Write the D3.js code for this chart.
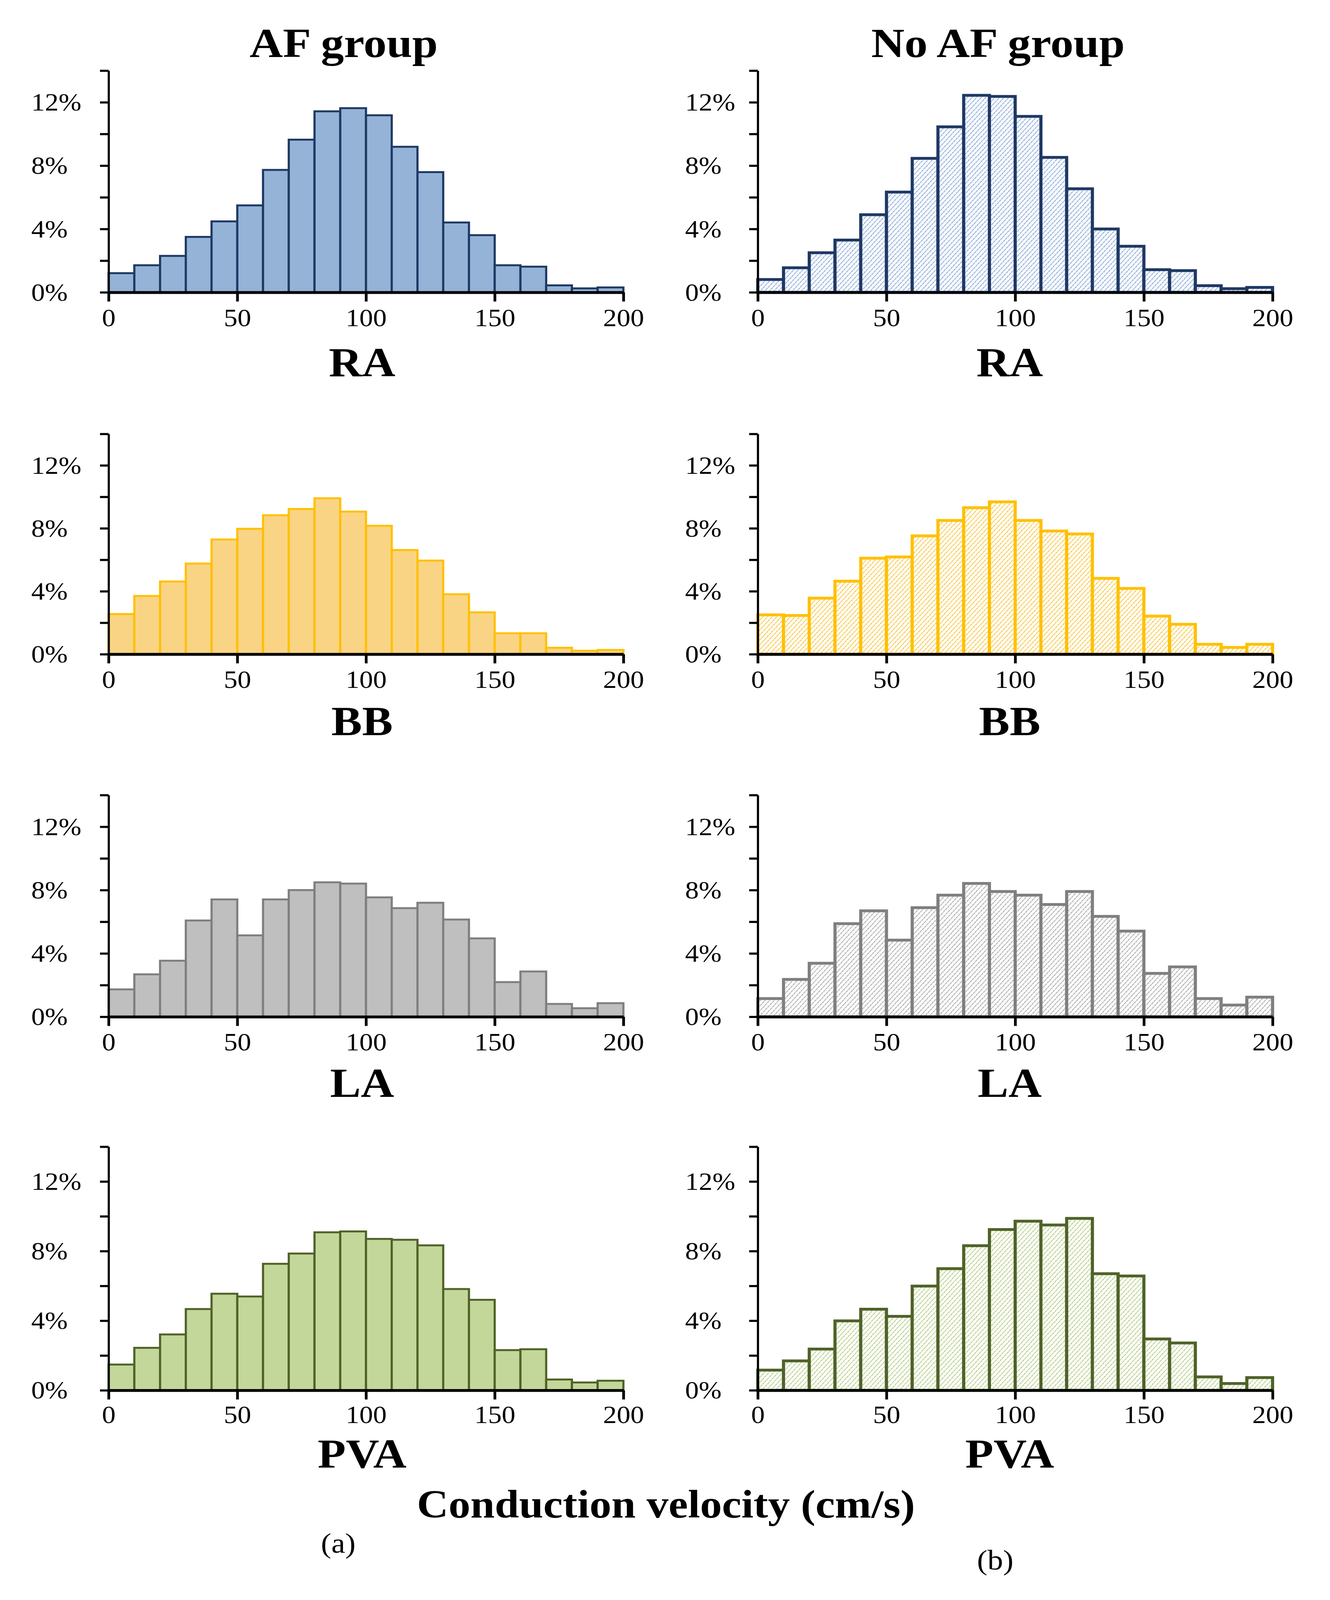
<!DOCTYPE html>
<html>
<head>
<meta charset="utf-8">
<script src="https://cdn.jsdelivr.net/npm/d3@7"></script>
<style>
  html, body { margin: 0; padding: 0; background: #fff; width: 100%; height: 100%; overflow: hidden; }
  svg { display: block; width: 100vw; height: 100vh; }
  text { font-family: "Liberation Serif", "Times New Roman", serif; fill: #000; }
</style>
</head>
<body>
<svg viewBox="0 0 3405 4532" preserveAspectRatio="none"></svg>
<script>
// bin starts (cm/s), each bin is 10 wide
const bins = [0, 10, 20, 30, 40, 50, 60, 70, 80, 90, 100, 110, 120, 130, 140, 150, 160, 170, 180, 190];
const binWidth = 10;

// % of points per bin
const raAF    = [1.21, 1.71, 2.30, 3.50, 4.48, 5.49, 7.73, 9.64, 11.43, 11.63, 11.18, 9.19, 7.59, 4.41, 3.61, 1.71, 1.62, 0.44, 0.25, 0.31];
const raNoAF  = [0.81, 1.55, 2.50, 3.30, 4.90, 6.33, 8.46, 10.45, 12.44, 12.37, 11.11, 8.52, 6.54, 4.00, 2.91, 1.43, 1.37, 0.42, 0.23, 0.31];
const bbAF    = [2.55, 3.70, 4.62, 5.76, 7.29, 7.97, 8.83, 9.23, 9.91, 9.06, 8.16, 6.62, 5.95, 3.81, 2.66, 1.33, 1.33, 0.41, 0.22, 0.27];
const bbNoAF  = [2.50, 2.46, 3.56, 4.64, 6.10, 6.18, 7.52, 8.50, 9.31, 9.68, 8.50, 7.83, 7.64, 4.82, 4.18, 2.42, 1.90, 0.63, 0.43, 0.63];
const laAF    = [1.73, 2.68, 3.54, 6.08, 7.41, 5.14, 7.41, 8.00, 8.49, 8.41, 7.54, 6.86, 7.20, 6.14, 4.95, 2.19, 2.86, 0.81, 0.54, 0.86];
const laNoAF  = [1.15, 2.36, 3.38, 5.88, 6.69, 4.84, 6.89, 7.68, 8.42, 7.91, 7.68, 7.09, 7.91, 6.34, 5.41, 2.74, 3.15, 1.15, 0.74, 1.24];
const pvaAF   = [1.48, 2.44, 3.21, 4.67, 5.55, 5.39, 7.27, 7.86, 9.08, 9.13, 8.70, 8.65, 8.33, 5.82, 5.20, 2.31, 2.36, 0.62, 0.45, 0.55];
const pvaNoAF = [1.16, 1.69, 2.37, 3.99, 4.66, 4.25, 5.99, 6.99, 8.31, 9.24, 9.72, 9.50, 9.88, 6.70, 6.57, 2.95, 2.72, 0.77, 0.39, 0.73];

const regions = ['RA', 'BB', 'LA', 'PVA'];
const groups = ['AF group', 'No AF group'];
const xTicks = [0, 50, 100, 150, 200];
const yTicks = [0, 2, 4, 6, 8, 10, 12, 14];
const yLabelled = [0, 4, 8, 12];

const seriesByRegion = {
    RA: [raAF, raNoAF],
    BB: [bbAF, bbNoAF],
    LA: [laAF, laNoAF],
    PVA: [pvaAF, pvaNoAF]
};

// colours per region
const styles = {
    RA:  { fill: '#95b3d7', stroke: '#1f3864', hatch: '#8ea9d6', bg: '#f6f9fd' },
    BB:  { fill: '#f9d485', stroke: '#ffc000', hatch: '#f5c343', bg: '#fffcf2' },
    LA:  { fill: '#bfbfbf', stroke: '#7f7f7f', hatch: '#a9a9a9', bg: '#fbfbfb' },
    PVA: { fill: '#c4d79b', stroke: '#4f6228', hatch: '#b3c98a', bg: '#fbfdf6' }
};

// layout (drawn in the reference's 3405x4532 frame, stretched to the window)
const colX = [278, 1940];
const colLabelX = [80, 1754];
const plotW = 1318;
const rowBottom = [828, 1853, 2880, 3938];
const rowH = [628, 624, 628, 690];
const rowTickPad = [20, 20, 20, 17];
const titleX = [880, 2555];
const regionX = [927, 2585];
const regionBase = [1066, 2082, 3107, 4157];

const svg = d3.select('svg');

// hatch patterns for the No AF group
const defs = svg.append('defs');
regions.forEach(r => {
    const p = defs.append('pattern')
        .attr('id', 'hatch-' + r)
        .attr('patternUnits', 'userSpaceOnUse')
        .attr('width', 9).attr('height', 9)
        .attr('patternTransform', 'rotate(40)');
    p.append('rect').attr('width', 9).attr('height', 9).attr('fill', styles[r].bg);
    p.append('line').attr('x1', 1).attr('y1', 0).attr('x2', 1).attr('y2', 9)
        .attr('stroke', styles[r].hatch).attr('stroke-width', 2.2)
        .attr('stroke-dasharray', '4 1.5');
});

// group titles
groups.forEach((g, c) => {
    svg.append('text')
        .attr('x', titleX[c]).attr('y', 162)
        .attr('text-anchor', 'middle')
        .style('font-size', '118px').style('font-weight', 'bold')
        .text(g);
});

regions.forEach((r, ri) => {
    groups.forEach((g, c) => {
        const values = seriesByRegion[r][c];
        const st = styles[r];
        const h = rowH[ri];
        const gp = svg.append('g')
            .attr('transform', `translate(${colX[c]},${rowBottom[ri] - h})`);

        const x = d3.scaleLinear().domain([0, 200]).range([0, plotW]);
        const y = d3.scaleLinear().domain([0, 14]).range([h, 0]);

        // bars
        gp.selectAll('rect.bar')
            .data(bins.map((b, i) => ({ start: b, v: values[i] })))
            .join('rect')
            .attr('class', 'bar')
            .attr('x', d => x(d.start))
            .attr('width', d => x(d.start + binWidth) - x(d.start))
            .attr('y', d => y(d.v))
            .attr('height', d => y(0) - y(d.v))
            .attr('fill', c === 0 ? st.fill : `url(#hatch-${r})`)
            .attr('stroke', st.stroke)
            .attr('stroke-width', c === 0 ? 5.5 : 8);

        // y axis
        const yAxis = gp.append('g')
            .call(d3.axisLeft(y).tickValues(yTicks).tickSize(22).tickSizeOuter(0).tickPadding(0)
                .tickFormat(d => yLabelled.includes(d) ? d + '%' : ''));
        yAxis.select('.domain').attr('stroke', '#000').attr('stroke-width', 5.5);
        yAxis.selectAll('.tick line').attr('stroke', '#000').attr('stroke-width', 6);
        yAxis.selectAll('.tick text')
            .attr('x', -(colX[c] - colLabelX[c]))
            .attr('text-anchor', 'start')
            .attr('dy', '0.33em')
            .style('font-size', '70px')
            .style('font-family', '"Liberation Serif", serif')
            .attr('fill', '#000');

        // x axis
        const xAxis = gp.append('g')
            .attr('transform', `translate(0,${h})`)
            .call(d3.axisBottom(x).tickValues(xTicks).tickSize(26).tickSizeOuter(0).tickPadding(rowTickPad[ri]));
        xAxis.select('.domain').attr('stroke', '#000').attr('stroke-width', 8);
        xAxis.selectAll('.tick line').attr('stroke', '#000').attr('stroke-width', 7);
        xAxis.selectAll('.tick text')
            .style('font-size', '70px')
            .style('font-family', '"Liberation Serif", serif')
            .attr('fill', '#000');

        // region label
        svg.append('text')
            .attr('x', regionX[c]).attr('y', regionBase[ri])
            .attr('text-anchor', 'middle')
            .style('font-size', '118px').style('font-weight', 'bold')
            .text(r);
    });
});

svg.append('text')
    .attr('x', 1705).attr('y', 4298)
    .attr('text-anchor', 'middle')
    .style('font-size', '112px').style('font-weight', 'bold')
    .text('Conduction velocity (cm/s)');

svg.append('text')
    .attr('x', 866).attr('y', 4398)
    .attr('text-anchor', 'middle')
    .style('font-size', '80px')
    .text('(a)');

svg.append('text')
    .attr('x', 2548).attr('y', 4446)
    .attr('text-anchor', 'middle')
    .style('font-size', '80px')
    .text('(b)');
</script>
</body>
</html>
